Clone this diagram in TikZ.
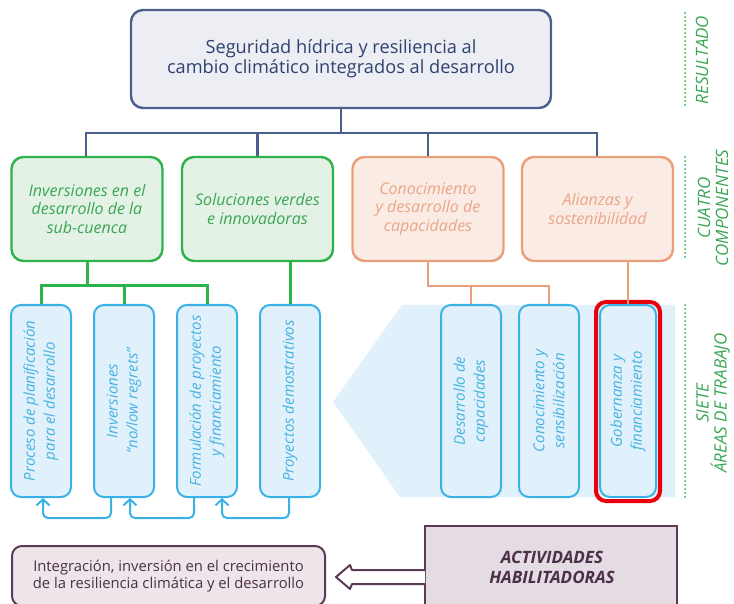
\documentclass[tikz,border=0pt]{standalone}
\usepackage{fontspec}
\setmainfont{Open Sans}
\usetikzlibrary{arrows.meta}
\definecolor{navy}{HTML}{4A5F8C}
\definecolor{navytext}{HTML}{2E4270}
\definecolor{navyfill}{HTML}{ECEEF3}
\definecolor{grn}{HTML}{2DB34A}
\definecolor{grnfill}{HTML}{E3F2E5}
\definecolor{grntext}{HTML}{3AA655}
\definecolor{org}{HTML}{E9A07A}
\definecolor{orgfill}{HTML}{FAECE4}
\definecolor{orgtext}{HTML}{EBA586}
\definecolor{blu}{HTML}{3CB1E6}
\definecolor{blufill}{HTML}{E0F1FB}
\definecolor{blutext}{HTML}{45B3E3}
\definecolor{pur}{HTML}{5B3A55}
\definecolor{purfill}{HTML}{EDE5EA}
\definecolor{purfill2}{HTML}{E4DCE2}
\definecolor{purtext}{HTML}{4A3048}
\definecolor{hl}{HTML}{E8000B}
\tikzset{
  resbox/.style={draw=navy, fill=navyfill, line width=2.4pt, rounded corners=12pt,
    minimum width=420pt, minimum height=98pt, text=navytext, align=center,
    font=\fontsize{18.2}{20}\selectfont},
  compg/.style={draw=grn, fill=grnfill, line width=2.4pt, rounded corners=12pt,
    minimum width=151pt, minimum height=104pt, text=grntext, align=center,
    font=\fontsize{16}{18.8}\selectfont\itshape},
  compo/.style={compg, draw=org, fill=orgfill, text=orgtext},
  area/.style={draw=blu, fill=blufill, line width=2pt, rounded corners=10pt,
    minimum width=60pt, minimum height=192pt, inner sep=0pt},
  arealabel/.style={rotate=90, text=blutext, align=center,
    font=\fontsize{15}{20}\selectfont\itshape},
  navyline/.style={draw=navy, line width=2.4pt},
  grnline/.style={draw=grn, line width=3pt},
  orgline/.style={draw=org, line width=2.4pt},
  loopline/.style={draw=blu, line width=2pt, rounded corners=5pt,
    -{Straight Barb[length=6pt,width=13pt,line width=2pt]}},
  sidelabel/.style={rotate=90, text=grntext, align=center,
    font=\fontsize{17}{18}\selectfont\itshape},
  sidedots/.style={draw=grn, line width=2pt, dash pattern=on 0pt off 4pt, line cap=round},
}
\begin{document}
\begin{tikzpicture}[x=1pt, y=-1pt]
\useasboundingbox (0,0) rectangle (734,604);

% backdrop behind the three right-hand work areas
\fill[blufill] (402,305) -- (675,305) -- (675,497) -- (400,497) -- (333,402) -- cycle;

% outcome
\node[resbox] (res) at (341,59) {Seguridad hídrica y resiliencia al\\cambio climático integrados al desarrollo};

% four components
\node[compg] (c1) at (87,209) {Inversiones en el\\desarrollo de la\\sub-cuenca};
\node[compg] (c2) at (257.5,209) {Soluciones verdes\\e innovadoras};
\node[compo] (c3) at (428,209) {Conocimiento\\y desarrollo de\\capacidades};
\node[compo] (c4) at (597.5,209) {Alianzas y\\sostenibilidad};

% seven work areas
\node[area] (a1) at (41,401) {};
\node[area] (a2) at (124,401) {};
\node[area] (a3) at (207,401) {};
\node[area] (a4) at (290,401) {};
\node[area] (a5) at (471,401) {};
\node[area] (a6) at (549,401) {};
\node[area, minimum width=56pt] (a7) at (628,401) {};
\node[arealabel] at (a1) {Proceso de planificación\\para el desarrollo};
\node[arealabel] at (a2) {Inversiones\\“no/low regrets”};
\node[arealabel] at (a3) {Formulación de proyectos\\y financiamiento};
\node[arealabel] at (a4) {Proyectos demostrativos};
\node[arealabel] at (a5) {Desarrollo de\\capacidades};
\node[arealabel] at (a6) {Conocimiento y\\sensibilización};
\node[arealabel] at (a7) {Gobernanza y\\financiamiento};
% highlight frame
\draw[hl, line width=4pt, rounded corners=10pt] (596,302) rectangle (660,501);

% outcome to components
\coordinate (busL) at (86,133);
\coordinate (busR) at (597,133);
\draw[navyline] (res.south) -- (res.south |- busL);
\draw[navyline] (c1.north -| busL) -- (busL) -- (busR) -- (c4.north -| busR);
\draw[navyline] (c2.north) -- (c2.north |- busL);
\draw[navyline] (c3.north) -- (c3.north |- busL);

% green branches
\coordinate (gbus) at (0,286);
\draw[grnline] (c1.south) -- (c1.south |- gbus);
\draw[grnline] (a1.north) -- (a1.north |- gbus) -- (a3.north |- gbus) -- (a3.north);
\draw[grnline] (a2.north) -- (a2.north |- gbus);
\draw[grnline] (c2.south -| a4.north) -- (a4.north);

% orange branches
\coordinate (obus) at (0,286);
\draw[orgline] (c3.south) -- (c3.south |- obus) -- (a6.north |- obus) -- (a6.north);
\draw[orgline] (a5.north) -- (a5.north |- obus);
\draw[orgline] (c4.south -| a7.north) -- (a7.north);

% feedback loops between neighbouring areas
\coordinate (lp) at (0,518);
\draw[loopline] ([xshift=-13pt]a2.south) -- ([xshift=-13pt]a2.south |- lp) -- ([xshift=2pt]a1.south |- lp) -- ([xshift=2pt]a1.south);
\draw[loopline] ([xshift=-13pt]a3.south) -- ([xshift=-13pt]a3.south |- lp) -- ([xshift=6pt]a2.south |- lp) -- ([xshift=6pt]a2.south);
\draw[loopline] ([xshift=-1pt]a4.south) -- ([xshift=-1pt]a4.south |- lp) -- ([xshift=15pt]a3.south |- lp) -- ([xshift=15pt]a3.south);

% enabling activities
\node[draw=pur, fill=purfill, line width=2pt, rounded corners=10pt,
  minimum width=313pt, minimum height=60pt, text=purtext, align=center,
  font=\fontsize{14.8}{17}\selectfont] (integ) at (168.5,576)
  {Integración, inversión en el crecimiento\\de la resiliencia climática y el desarrollo};
\draw[pur, fill=purfill2, line width=2pt] (425,612) -- (425,526) -- (677,526) -- (677,612);
\node[text=purtext, align=center, font=\fontsize{17}{20}\selectfont\bfseries\itshape] (act) at (552,567) {ACTIVIDADES\\HABILITADORAS};
\coordinate (actL) at (425,576);
\draw[pur, fill=white, line width=2pt, line join=round]
  (actL |- 0,570) -- (352,570) -- (350,565) -- (336,577) -- (350,589) -- (352,584) -- (actL |- 0,584);

% level labels
\draw[sidedots] (685,13) -- (685,107);
\draw[sidedots] (685,157) -- (685,260);
\draw[sidedots] (685,305) -- (685,497);
\node[sidelabel] at (702,60) {RESULTADO};
\node[sidelabel] at (713,208) {CUATRO\\COMPONENTES};
\node[sidelabel] at (713,403) {SIETE\\ÁREAS DE TRABAJO};
\end{tikzpicture}
\end{document}
